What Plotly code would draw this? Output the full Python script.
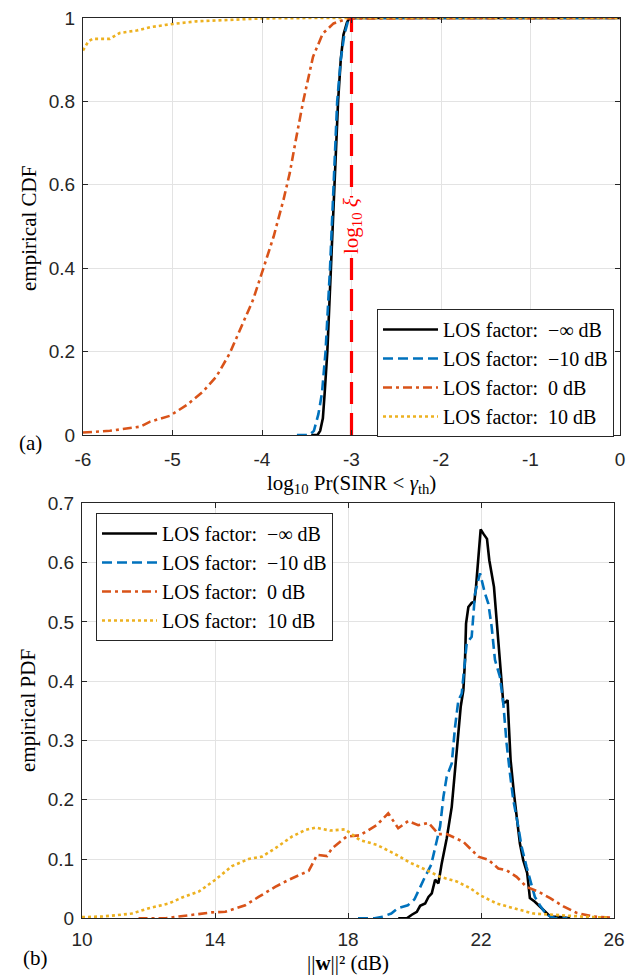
import plotly.graph_objects as go

# ---------------- (a) empirical CDF ----------------
cdf_inf_x = [-3.45, -3.38, -3.35, -3.32, -3.30, -3.27, -3.23, -3.19, -3.15, -3.12, -3.09, -3.05, -3.02, 0.0]
cdf_inf_y = [0.0, 0.0, 0.01, 0.04, 0.10, 0.20, 0.40, 0.60, 0.80, 0.90, 0.96, 0.99, 1.0, 1.0]

cdf_m10_x = [-3.61, -3.47, -3.42, -3.37, -3.33, -3.29, -3.24, -3.20, -3.16, -3.12, -3.08, -3.03, 0.0]
cdf_m10_y = [0.0, 0.0, 0.01, 0.05, 0.10, 0.20, 0.40, 0.60, 0.80, 0.90, 0.96, 1.0, 1.0]

cdf_0_x = [-6.0, -5.70, -5.36, -5.25, -5.03, -4.84, -4.66, -4.51, -4.36, -4.21, -4.10, -3.99,
           -3.87, -3.76, -3.69, -3.62, -3.54, -3.43, -3.32, -3.20, -3.04, 0.0]
cdf_0_y = [0.006, 0.010, 0.020, 0.032, 0.046, 0.072, 0.104, 0.140, 0.196, 0.268, 0.324, 0.396,
           0.476, 0.564, 0.628, 0.710, 0.800, 0.907, 0.963, 0.987, 0.999, 1.0]

cdf_10_x = [-6.0, -5.94, -5.89, -5.70, -5.59, -5.40, -5.25, -4.99, -4.73, -4.36, -3.99, -3.43, 0.0]
cdf_10_y = [0.922, 0.944, 0.950, 0.950, 0.964, 0.970, 0.978, 0.986, 0.992, 0.996, 0.999, 1.0, 1.0]

log10_xi = -3.0
xi_line_y = [0.0, 1.0]

cdf_xticks = [-6, -5, -4, -3, -2, -1, 0]
cdf_xticktext = ["-6", "-5", "-4", "-3", "-2", "-1", "0"]
cdf_yticks = [0, 0.2, 0.4, 0.6, 0.8, 1.0]
cdf_yticktext = ["0", "0.2", "0.4", "0.6", "0.8", "1"]

# ---------------- (b) empirical PDF ----------------
pdf_inf_x = [19.51, 19.77, 19.92, 20.07, 20.17, 20.32, 20.42, 20.52, 20.62, 20.72, 20.82, 20.97,
             21.12, 21.22, 21.32, 21.39, 21.47, 21.52, 21.55, 21.62, 21.72, 21.80, 21.85, 21.92,
             21.99, 22.08, 22.18, 22.25, 22.32, 22.39, 22.47, 22.55, 22.62, 22.67, 22.75, 22.80,
             22.84, 22.89, 22.99, 23.09, 23.17, 23.27, 23.39, 23.47, 23.62, 23.77, 23.92, 24.08,
             24.38, 24.68]
pdf_inf_y = [0.0, 0.0, 0.006, 0.011, 0.021, 0.025, 0.036, 0.042, 0.065, 0.059, 0.093, 0.135,
             0.188, 0.250, 0.320, 0.357, 0.385, 0.436, 0.497, 0.525, 0.532, 0.534, 0.559, 0.604,
             0.656, 0.648, 0.640, 0.604, 0.582, 0.559, 0.503, 0.447, 0.407, 0.363, 0.365, 0.368,
             0.323, 0.267, 0.211, 0.166, 0.126, 0.098, 0.076, 0.034, 0.028, 0.020, 0.011, 0.003,
             0.002, 0.0]

pdf_m10_x = [18.30, 18.80, 19.00, 19.30, 19.50, 19.80, 20.00, 20.10, 20.30, 20.50, 20.65, 20.77,
             20.87, 20.97, 21.12, 21.22, 21.32, 21.42, 21.52, 21.57, 21.72, 21.82, 21.97, 22.12,
             22.22, 22.32, 22.42, 22.57, 22.67, 22.77, 22.87, 22.97, 23.12, 23.22, 23.37, 23.47,
             23.62, 23.77, 23.97, 24.23, 24.60]
pdf_m10_y = [0.0, 0.0, 0.002, 0.008, 0.017, 0.022, 0.032, 0.045, 0.068, 0.090, 0.125, 0.155,
             0.205, 0.239, 0.261, 0.323, 0.368, 0.379, 0.436, 0.464, 0.475, 0.548, 0.582, 0.548,
             0.531, 0.492, 0.436, 0.407, 0.363, 0.295, 0.245, 0.200, 0.155, 0.121, 0.087, 0.065,
             0.036, 0.022, 0.006, 0.0, 0.0]

pdf_0_x = [11.70, 12.51, 12.91, 13.41, 13.91, 14.31, 14.91, 15.31, 15.81, 16.22, 16.82, 17.07,
           17.37, 17.52, 17.96, 18.36, 18.86, 19.21, 19.51, 19.81, 20.11, 20.42, 20.72, 20.97,
           21.47, 21.92, 22.22, 22.52, 22.77, 23.07, 23.37, 23.72, 24.08, 24.48, 24.88, 25.38,
           25.98]
pdf_0_y = [0.0, 0.0, 0.003, 0.006, 0.010, 0.011, 0.022, 0.036, 0.053, 0.065, 0.080, 0.107,
           0.105, 0.118, 0.138, 0.140, 0.157, 0.177, 0.152, 0.164, 0.157, 0.161, 0.142, 0.142,
           0.129, 0.104, 0.099, 0.084, 0.081, 0.070, 0.053, 0.045, 0.034, 0.020, 0.009, 0.003,
           0.001]

pdf_10_x = [10.0, 10.60, 11.00, 11.50, 12.01, 12.61, 13.01, 13.51, 14.01, 14.51, 15.01, 15.41,
            15.81, 16.32, 16.72, 17.02, 17.46, 17.91, 18.36, 18.86, 19.36, 19.86, 20.37, 20.77,
            21.27, 21.67, 21.97, 22.47, 22.98, 23.58, 24.18, 24.98, 25.88]
pdf_10_y = [0.002, 0.003, 0.005, 0.008, 0.017, 0.025, 0.035, 0.045, 0.065, 0.088, 0.100, 0.104,
            0.118, 0.138, 0.149, 0.153, 0.148, 0.150, 0.132, 0.124, 0.110, 0.094, 0.081, 0.070,
            0.062, 0.051, 0.039, 0.025, 0.017, 0.008, 0.006, 0.003, 0.001]

pdf_xticks = [10, 14, 18, 22, 26]
pdf_xticktext = ["10", "14", "18", "22", "26"]
pdf_yticks = [0, 0.1, 0.2, 0.3, 0.4, 0.5, 0.6, 0.7]
pdf_yticktext = ["0", "0.1", "0.2", "0.3", "0.4", "0.5", "0.6", "0.7"]

NB = "\u00a0"
series_names = [f"LOS factor:{NB}{NB}−∞ dB", f"LOS factor:{NB}{NB}−10 dB",
                f"LOS factor:{NB}{NB}0 dB", f"LOS factor:{NB}{NB}10 dB"]

# ---------------- styling ----------------
W, H = 634, 978
SERIF = "Liberation Serif, Times New Roman, serif"
SANS = "Liberation Sans, Arial, sans-serif"
AX = "#262626"
GRID = "#E3E3E3"
colors = ["#000000", "#0072BD", "#D95319", "#EDB120"]
dashes = ["solid", "10px,5px", "9px,4px,3px,4px", "3px,3px"]
widths = [2.6, 2.6, 2.6, 2.6]


def px_x(p):
    return p / W


def px_y(p):
    return 1 - p / H


fig = go.Figure()

top_sets = [(cdf_inf_x, cdf_inf_y), (cdf_m10_x, cdf_m10_y), (cdf_0_x, cdf_0_y), (cdf_10_x, cdf_10_y)]
for i, (xs, ys) in enumerate(top_sets):
    fig.add_trace(go.Scatter(x=xs, y=ys, mode="lines", name=series_names[i],
                             line=dict(color=colors[i], width=widths[i], dash=dashes[i]),
                             xaxis="x", yaxis="y", legend="legend"))
fig.add_trace(go.Scatter(x=[log10_xi, log10_xi], y=xi_line_y, mode="lines", showlegend=False,
                         line=dict(color="#FF0000", width=3.2, dash="22px,9px"),
                         xaxis="x", yaxis="y"))

bot_sets = [(pdf_inf_x, pdf_inf_y), (pdf_m10_x, pdf_m10_y), (pdf_0_x, pdf_0_y), (pdf_10_x, pdf_10_y)]
for i, (xs, ys) in enumerate(bot_sets):
    fig.add_trace(go.Scatter(x=xs, y=ys, mode="lines", name=series_names[i],
                             line=dict(color=colors[i], width=widths[i], dash=dashes[i]),
                             xaxis="x2", yaxis="y2", legend="legend2"))

axis_common = dict(showline=True, linecolor=AX, linewidth=1.2, mirror="ticks", ticks="inside",
                   ticklen=5, tickwidth=1, tickcolor=AX, showgrid=True, gridcolor=GRID, gridwidth=1,
                   zeroline=False, tickfont=dict(family=SANS, size=19, color=AX),
                   tickmode="array", automargin=False)
ystand = dict(ticklabelstandoff=3)

fig.update_layout(
    width=W, height=H,
    margin=dict(l=0, r=0, t=0, b=0, pad=0, autoexpand=False),
    plot_bgcolor="white", paper_bgcolor="white",
    xaxis=dict(domain=[px_x(83), px_x(620)], anchor="y", range=[-6, 0],
               tickvals=cdf_xticks, ticktext=cdf_xticktext, ticklabelstandoff=7, **axis_common),
    yaxis=dict(domain=[px_y(435), px_y(18)], anchor="x", range=[0, 1],
               tickvals=cdf_yticks, ticktext=cdf_yticktext, **axis_common, **ystand),
    xaxis2=dict(domain=[px_x(82), px_x(614)], anchor="y2", range=[10, 26],
                tickvals=pdf_xticks, ticktext=pdf_xticktext, ticklabelstandoff=4, **axis_common),
    yaxis2=dict(domain=[px_y(918.3), px_y(503.3)], anchor="x2", range=[0, 0.7],
                tickvals=pdf_yticks, ticktext=pdf_yticktext, **axis_common, **ystand),
    legend=dict(x=px_x(614), y=px_y(373), xanchor="right", yanchor="middle",
                bgcolor="white", bordercolor=AX, borderwidth=1, itemwidth=55,
                font=dict(family=SERIF, size=20, color="black"), tracegroupgap=0),
    legend2=dict(x=px_x(96), y=px_y(577), xanchor="left", yanchor="middle",
                 bgcolor="white", bordercolor=AX, borderwidth=1, itemwidth=55,
                 font=dict(family=SERIF, size=20, color="black"), tracegroupgap=0),
    showlegend=True,
)

ann_font = dict(family=SERIF, size=21, color="black")
annotations = [
    dict(text="empirical CDF", x=px_x(29), y=px_y(229), textangle=-90),
    dict(text="empirical PDF", x=px_x(28), y=px_y(711), textangle=-90),
    dict(text="log<sub>10</sub> Pr(SINR &lt; <i>γ</i><sub>th</sub>)", x=px_x(351), y=px_y(484)),
    dict(text="(a)", x=px_x(30), y=px_y(443)),
    dict(text="(b)", x=px_x(35), y=px_y(958)),
]
for a in annotations:
    fig.add_annotation(xref="paper", yref="paper", showarrow=False, font=ann_font,
                       xanchor="center", yanchor="middle", **a)

fig.add_annotation(xref="paper", yref="paper", showarrow=False,
                   font=dict(family=SERIF, size=21, color="black"),
                   text="||<b>w</b>||² (dB)", x=px_x(348), y=px_y(977),
                   xanchor="center", yanchor="bottom")

fig.add_annotation(xref="x", yref="y", x=log10_xi, y=0.5, text="log<sub>10</sub> <i>ξ</i>",
                   textangle=-90, showarrow=False, bgcolor="white", borderpad=0,
                   font=dict(family=SERIF, size=21, color="#FF0000"),
                   xanchor="center", yanchor="middle")

fig.write_html("out.html", config={"responsive": False, "displayModeBar": False},
               post_script="document.body.style.margin='0px';document.body.style.padding='0px';")
